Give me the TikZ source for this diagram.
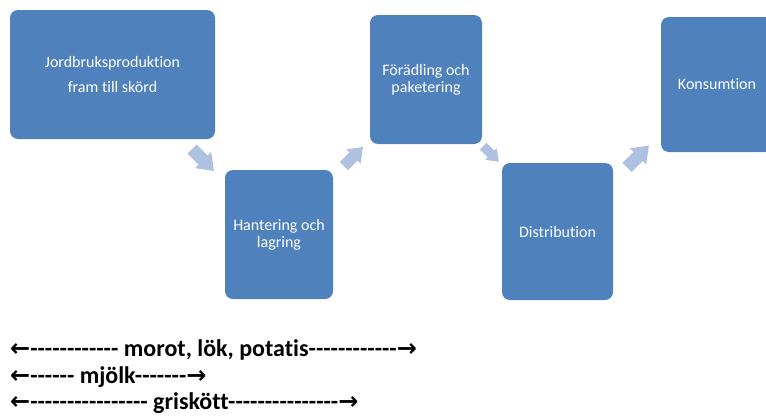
\documentclass[tikz,border=0pt]{standalone}
\usepackage{fontspec}
\setmainfont{Carlito}[Ligatures={TeXOff,NoCommon}]
\newfontfamily\arrowfont{DejaVu Sans}
\definecolor{boxblue}{HTML}{4F81BD}
\definecolor{arrowblue}{HTML}{AFC1E0}
\newcommand{\vpil}{{\arrowfont\bfseries ←}}
\newcommand{\hpil}{{\arrowfont\bfseries →}}
\tikzset{
  stepbox/.style={fill=boxblue, rounded corners=8pt, text=white, align=center,
    inner sep=0pt, font=\fontsize{16}{17}\selectfont},
  legend/.style={anchor=base west, inner sep=0pt, font=\bfseries\fontsize{24}{28}\selectfont},
  pics/chunky/.style={code={
    \fill[arrowblue] (-0.5,-0.21) -- (0,-0.21) -- (0,-0.37) -- (0.5,0)
      -- (0,0.37) -- (0,0.21) -- (-0.5,0.21) -- cycle;
  }}
}
\begin{document}
\begin{tikzpicture}[x=1pt, y=-1pt]
    \clip (0,0) rectangle (766,416);
    % steps in the chain
    \node[stepbox, minimum width=205pt, minimum height=129pt] (prod) at (112.5,74.5)
        {Jordbruksproduktion\\[7.5pt]fram till skörd};
    \node[stepbox, minimum width=108pt, minimum height=129pt] (hant) at (279,234.5)
        {Hantering och\\lagring};
    \node[stepbox, minimum width=112pt, minimum height=129pt] (foradl) at (426,79.5)
        {Förädling och\\paketering};
    \node[stepbox, minimum width=111pt, minimum height=137pt] (distr) at (557.5,231.5)
        {Distribution};
    \node[stepbox, minimum width=112pt, minimum height=135pt] (kons) at (717,84.5)
        {Konsumtion};
    % block arrows between the steps
    \pic[rotate=-45, scale=31] at (203,160) {chunky};
    \pic[rotate=45, scale=27] at (353.5,156.5) {chunky};
    \pic[rotate=-45, scale=22] at (491,154) {chunky};
    \pic[rotate=45, scale=31] at (638,156.5) {chunky};
    % which products pass which steps
    \node[legend] (rotfrukt) at (10,356) {\vpil------------ morot, lök, potatis------------\hpil};
    \node[legend] (mjolk) at (10,383) {\vpil------ mjölk-------\hpil};
    \node[legend] (gris) at (10,409) {\vpil---------------- griskött---------------\hpil};
\end{tikzpicture}
\end{document}
